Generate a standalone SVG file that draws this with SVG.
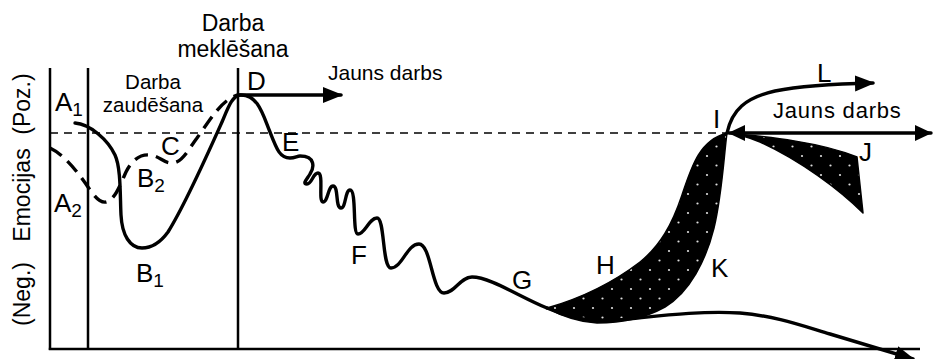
<svg xmlns="http://www.w3.org/2000/svg" width="933" height="359" viewBox="0 0 933 359">
<style>
text{font-family:"Liberation Sans",Arial,"DejaVu Sans",sans-serif;fill:#000}
.lbl{font-size:26px}
.sub{font-size:19px}
.ax{font-size:23px;text-anchor:middle}
.cap{text-anchor:middle}
.line{fill:none;stroke:#000;stroke-width:3.4;stroke-linecap:round;stroke-linejoin:round}
.frame{fill:none;stroke:#000;stroke-width:2.5}
.dash{fill:none;stroke:#000;stroke-width:1.6;stroke-dasharray:8 6}
.dashc{fill:none;stroke:#000;stroke-width:3.4;stroke-dasharray:14 8}
.area{fill:url(#dots);stroke:#000;stroke-width:1.5;stroke-linejoin:round}
</style>
<defs>
<marker id="ah" markerWidth="22" markerHeight="18" refX="18" refY="8" orient="auto" markerUnits="userSpaceOnUse"><path d="M0,0 L20,8 L0,16 Z" fill="#000"/></marker>
<marker id="ahs" markerWidth="22" markerHeight="18" refX="16" refY="8" orient="auto-start-reverse" markerUnits="userSpaceOnUse"><path d="M0,0 L17,8 L0,16 Z" fill="#000"/></marker>
<pattern id="dots" width="19" height="19" patternUnits="userSpaceOnUse"><rect width="19" height="19" fill="#000"/><circle cx="4" cy="4" r="1.1" fill="#ddd"/><circle cx="13.5" cy="13.5" r="1.1" fill="#ddd"/></pattern>
</defs>

<g id="axes">
<line class="frame" x1="50" y1="68" x2="50" y2="350"/>
<line class="frame" x1="48.8" y1="349" x2="920" y2="349"/>
<line class="frame" x1="88" y1="68" x2="88" y2="349"/>
<line class="frame" x1="238" y1="68" x2="238" y2="349"/>
<line class="dash" x1="50" y1="133" x2="727" y2="133"/>
<text class="ax" transform="translate(30,104) rotate(-90)">(Poz.)</text>
<text class="ax" transform="translate(30,195) rotate(-90)">Emocijas</text>
<text class="ax" transform="translate(30,294) rotate(-90)">(Neg.)</text>
</g>

<g id="areas">
<path id="area-HK" class="area" d="M547,308 C575,300 610,285 640,262 C660,246 672,225 682,195 C692,165 700,140 727,133 C724,155 722,195 714,228 C706,260 690,292 665,307 C645,318 620,323 597,323 C578,322 560,315 547,308 Z"/>
<path id="area-J" class="area" d="M727,133 C770,137 820,142 857,157 L863,213 C840,190 800,160 760,142 C748,137 737,134 727,133 Z"/>
</g>

<g id="connectors">
<path id="curve-A2" class="dashc" d="M50,148 C65,155 80,175 90,190 C96,198 100,203 106,202 C115,200 120,185 126,172 C132,160 140,154 150,155 C160,156 163,163 172,163 C182,163 188,150 197,138 C210,120 222,99 238,95"/>
<path id="curve-main" class="line" d="M75,123 C90,124 108,140 115,155 C121,168 120,195 121,215 C122,235 130,248 142,248 C152,248 160,243 168,232 C185,205 205,160 222,122 C228,108 232,96 240,95 C258,94 263,115 270,132 C277,150 280,158 290,158 C295,158 297,156 300,156 C316,156 314,168 310,174 C307,179 302,184 307,184 C312,184 313,173 318,173 C324,173 318,202 323,202 C328,202 328,186 333,186 C339,186 335,208 341,208 C346,208 345,190 350,190 C357,190 352,234 358,234 C365,234 369,218 377,218 C385,218 382,268 391,268 C402,268 407,244 419,244 C431,244 432,293 444,293 C455,293 460,277 472,277 C490,277 520,297 547,308"/>
<path id="curve-low" class="line" d="M547,308 C565,316 585,321 605,321 C640,319 690,310 740,313 C775,316 800,325 830,334 L913,359" marker-end="url(#ah)"/>
<path id="arrow-D" class="line" d="M238,95 L341,95" marker-end="url(#ah)"/>
<path id="arrow-L" class="line" d="M727,133 C732,110 745,98 775,91 C800,86 830,84 873,83" marker-end="url(#ah)"/>
<path id="arrow-J" class="line" d="M729,133 L931,133" marker-start="url(#ahs)" marker-end="url(#ahs)"/>
</g>

<g id="captions">
<text class="cap" x="233" y="31" style="font-size:23px">Darba</text>
<text class="cap" x="233" y="57" style="font-size:23px">meklēšana</text>
<text class="cap" x="153" y="89" style="font-size:20.5px">Darba</text>
<text class="cap" x="153" y="112" style="font-size:20.5px">zaudēšana</text>
<text x="328" y="80" style="font-size:21px">Jauns darbs</text>
<text x="773" y="118" style="font-size:22px;letter-spacing:0.8px">Jauns darbs</text>
</g>

<g id="labels">
<text class="lbl" x="55" y="111">A<tspan class="sub" dy="5">1</tspan></text>
<text class="lbl" x="54" y="212">A<tspan class="sub" dy="5">2</tspan></text>
<text class="lbl" x="137" y="187">B<tspan class="sub" dy="5">2</tspan></text>
<text class="lbl" x="161" y="155">C</text>
<text class="lbl" x="136" y="282">B<tspan class="sub" dy="5">1</tspan></text>
<text class="lbl" x="247" y="90">D</text>
<text class="lbl" x="282" y="151">E</text>
<text class="lbl" x="351" y="264">F</text>
<text class="lbl" x="512" y="289">G</text>
<text class="lbl" x="596" y="274">H</text>
<text class="lbl" x="713" y="128">I</text>
<text class="lbl" x="859" y="161">J</text>
<text class="lbl" x="711" y="277">K</text>
<text class="lbl" x="817" y="82">L</text>
</g>
</svg>
